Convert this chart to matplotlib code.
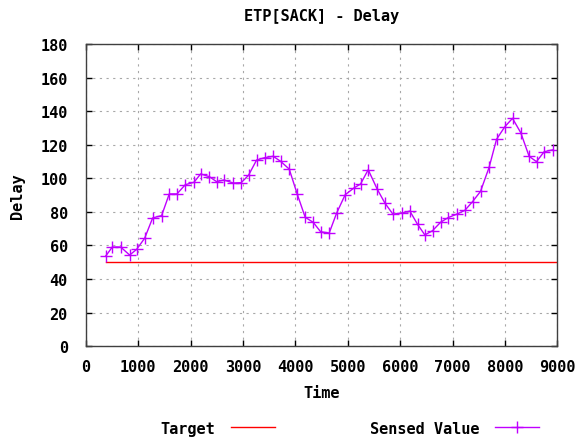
import matplotlib
matplotlib.use("Agg")
import matplotlib.pyplot as plt
import matplotlib.ticker as ticker
from matplotlib.lines import Line2D

# sensed delay samples over time
time = [378, 505, 664, 836, 969, 1122, 1275, 1446, 1592, 1739, 1898, 2063, 2191,
        2355, 2496, 2636, 2813, 2966, 3105, 3260, 3418, 3576, 3718, 3882, 4034,
        4187, 4340, 4481, 4645, 4786, 4950, 5116, 5244, 5390, 5561, 5708, 5860,
        6027, 6185, 6332, 6471, 6618, 6771, 6916, 7076, 7235, 7382, 7534, 7698,
        7840, 7998, 8145, 8303, 8462, 8603, 8748, 8920]
delay = [53.7, 59.1, 59.1, 54.3, 57.7, 64.3, 76.4, 77.8, 90.7, 90.7, 96.2, 97.6, 102.6,
         101.0, 98.0, 99.0, 97.2, 97.4, 101.8, 110.9, 112.3, 113.1, 110.1, 105.5, 90.7,
         76.8, 73.8, 68.2, 67.4, 79.2, 90.2, 94.2, 96.6, 105.1, 93.6, 85.3, 78.7,
         79.3, 80.5, 72.6, 66.3, 68.8, 73.8, 76.6, 78.6, 80.9, 86.1, 92.2, 106.5,
         123.2, 130.7, 135.7, 127.1, 113.1, 109.9, 115.8, 117.0]

# target delay
target_time = [378, 9000]
target_delay = [50, 50]

plt.rcParams['font.family'] = 'DejaVu Sans Mono'
plt.rcParams['font.weight'] = 'bold'
plt.rcParams['font.size'] = 11

fig = plt.figure(figsize=(5.81, 4.39), dpi=100)
ax = fig.add_axes([0.1478, 0.2089, 0.8114, 0.6888])

target_color = '#ff0000'
sensed_color = '#c000ff'

ax.plot(target_time, target_delay, color=target_color, lw=1)
ax.plot(time, delay, color=sensed_color, lw=1, marker='+', markersize=8, markeredgewidth=1)

ax.set_xlim(0, 9000)
ax.set_ylim(0, 180)
ax.xaxis.set_major_locator(ticker.MultipleLocator(1000))
ax.yaxis.set_major_locator(ticker.MultipleLocator(20))
ax.grid(True, color='#a8a8a8', linestyle=(0, (2, 4)), lw=0.8)
ax.tick_params(direction='in', top=True, right=True, length=4, width=1)
ax.tick_params(axis='x', pad=9)
ax.tick_params(axis='y', pad=13)
for s in ax.spines.values():
	s.set_color('#404040')
	s.set_linewidth(1)

ax.set_title('ETP[SACK] - Delay', fontsize=11, fontweight='bold', pad=17)
ax.set_xlabel('Time', fontweight='bold', labelpad=8)
ax.set_ylabel('Delay', fontweight='bold', labelpad=11)

# legend below the plot
handles = [Line2D([], [], color=target_color, lw=1),
           Line2D([], [], color=sensed_color, lw=1, marker='+', markersize=9)]
fig.legend(handles, ['Target', 'Sensed Value'], ncol=2, loc='center',
           bbox_to_anchor=(0.602, 0.022), markerfirst=False, frameon=False,
           columnspacing=6.2, handlelength=2.9, handletextpad=1.0)

plt.savefig('out.png', dpi=100)
